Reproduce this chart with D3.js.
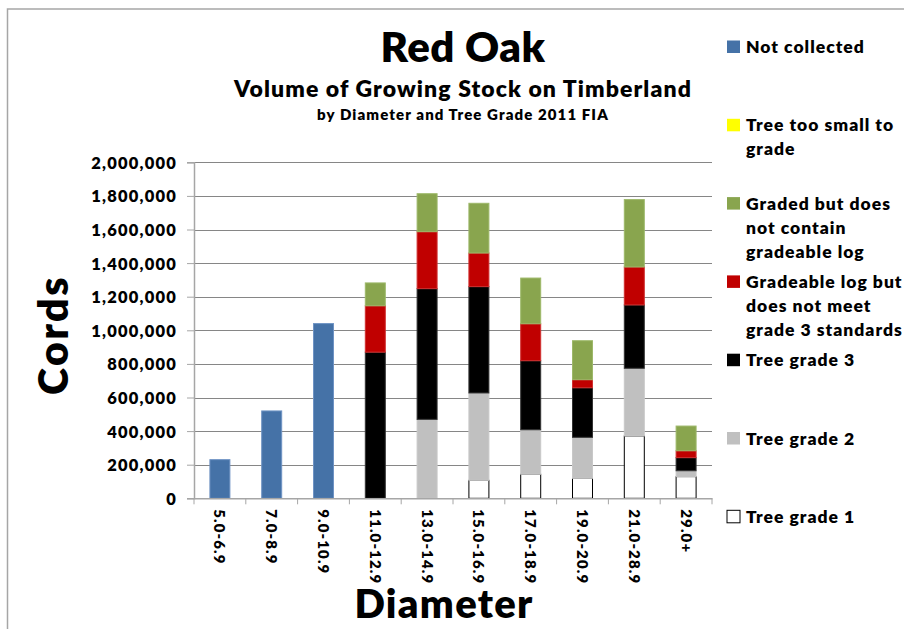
<!DOCTYPE html>
<html>
<head>
<meta charset="utf-8">
<script src="https://cdn.jsdelivr.net/npm/d3@7/dist/d3.min.js"></script>
<style>
  html, body { margin: 0; padding: 0; background: #fff; }
  svg { display: block; }
  text { font-family: Lato, "Open Sans", sans-serif; font-weight: 800; fill: #000; }
</style>
</head>
<body>
<svg id="chart" width="904" height="629"></svg>
<script>
// ---------- DATA ----------
const categories = ["5.0-6.9","7.0-8.9","9.0-10.9","11.0-12.9","13.0-14.9","15.0-16.9","17.0-18.9","19.0-20.9","21.0-28.9","29.0+"];
const treeGrade1     = [0, 0, 0, 0, 0, 107000, 143000, 119000, 371000, 129000];
const treeGrade2     = [0, 0, 0, 0, 470000, 520000, 265000, 244000, 403000, 35000];
const treeGrade3     = [0, 0, 0, 870000, 778000, 633000, 411000, 295000, 377000, 78000];
const gradeableLog   = [0, 0, 0, 276000, 339000, 200000, 220000, 48000, 226000, 41000];
const gradedNoLog    = [0, 0, 0, 136000, 226000, 296000, 272000, 232000, 401000, 147000];
const tooSmall       = [0, 0, 0, 0, 0, 0, 0, 0, 0, 0];
const notCollected   = [230000, 520000, 1040000, 0, 0, 0, 0, 0, 0, 0];
const yTicks = [0, 200000, 400000, 600000, 800000, 1000000, 1200000, 1400000, 1600000, 1800000, 2000000];

// series in stacking order (bottom -> top)
const series = [
  { key: "g1",  name: ["Tree grade 1"], values: treeGrade1, color: "#FFFFFF", stroke: "#000000" },
  { key: "g2",  name: ["Tree grade 2"], values: treeGrade2, color: "#C0C0C0", stroke: "#C8C8C8" },
  { key: "g3",  name: ["Tree grade 3"], values: treeGrade3, color: "#000000", stroke: "#333333" },
  { key: "gl",  name: ["Gradeable log but", "does not meet", "grade 3 standards"], values: gradeableLog, color: "#C00000", stroke: "#D03030" },
  { key: "gn",  name: ["Graded but does", "not contain", "gradeable log"], values: gradedNoLog, color: "#89A54E", stroke: "#9DB869" },
  { key: "ts",  name: ["Tree too small  to", "grade"], values: tooSmall, color: "#FFFF00", stroke: "#FFFF00" },
  { key: "nc",  name: ["Not collected"], values: notCollected, color: "#4572A7", stroke: "#6F93C4" }
];

// ---------- LAYOUT ----------
const svg = d3.select("#chart");
const plot = { left: 194, right: 712, top: 162.3, bottom: 498.3 };

// outer frame
svg.append("rect").attr("x", 7.5).attr("y", 9).attr("width", 1000).attr("height", 1000)
  .attr("fill", "none").attr("stroke", "#A6A6A6").attr("stroke-width", 1.5);

const x = d3.scaleBand().domain(categories).range([plot.left, plot.right])
  .paddingInner(0.614).paddingOuter(0.307);
const y = d3.scaleLinear().domain([0, 2000000]).range([plot.bottom, plot.top]);

// gridlines
svg.append("g").selectAll("line").data(yTicks.filter(d => d > 0)).join("line")
  .attr("x1", plot.left).attr("x2", plot.right)
  .attr("y1", d => Math.round(y(d)) + 0.5).attr("y2", d => Math.round(y(d)) + 0.5)
  .attr("stroke", "#868686").attr("stroke-width", 1);

// stacked bars
const rows = categories.map((c, i) => {
  const r = { cat: c };
  series.forEach(s => r[s.key] = s.values[i]);
  return r;
});
const stack = d3.stack().keys(series.map(s => s.key))(rows);
const gBars = svg.append("g");
stack.forEach((layer, li) => {
  const s = series[li];
  gBars.append("g").selectAll("rect").data(layer.filter(d => d[1] - d[0] > 0)).join("rect")
    .attr("x", d => x(d.data.cat))
    .attr("width", x.bandwidth())
    .attr("y", d => y(d[1]))
    .attr("height", d => y(d[0]) - y(d[1]))
    .attr("fill", s.color)
    .attr("stroke", s.stroke)
    .attr("stroke-width", 1);
});

// y axis
const yAxis = d3.axisLeft(y).tickValues(yTicks).tickSize(7).tickPadding(10)
  .tickFormat(d3.format(","));
const gy = svg.append("g").attr("transform", `translate(${plot.left},0)`).call(yAxis);
gy.select(".domain").attr("stroke", "#A6A6A6").attr("stroke-width", 1.5);
gy.selectAll(".tick line").attr("stroke", "#A6A6A6");
gy.selectAll(".tick text").style("font-family", "Lato, sans-serif").style("font-weight", 800)
  .style("font-size", "16.5px").style("letter-spacing", "1.2px").attr("fill", "#000").attr("dy", "0.36em");

// x axis
const xAxis = d3.axisBottom(x).tickSize(0).tickPadding(0);
const gx = svg.append("g").attr("transform", `translate(0,${plot.bottom})`).call(xAxis);
gx.select(".domain").attr("stroke", "#A6A6A6").attr("stroke-width", 1.5);
gx.selectAll(".tick text")
  .style("font-family", "Lato, sans-serif").style("font-weight", 800).style("font-size", "15px")
  .style("letter-spacing", "1.1px")
  .attr("fill", "#000")
  .attr("text-anchor", "start")
  .attr("transform", "translate(0,11) rotate(90)")
  .attr("x", 0).attr("y", 0).attr("dy", "0.36em");
// category boundary ticks
const step = x.step();
const boundaries = categories.map(c => x(c) - (step - x.bandwidth()) / 2).concat([plot.right]);
svg.append("g").selectAll("line").data(boundaries).join("line")
  .attr("x1", d => d).attr("x2", d => d)
  .attr("y1", plot.bottom).attr("y2", plot.bottom + 6)
  .attr("stroke", "#A6A6A6").attr("stroke-width", 1);

// titles
svg.append("text").attr("x", 463).attr("y", 62).attr("text-anchor", "middle")
  .style("font-size", "42px").style("letter-spacing", "0.5px").text("Red Oak");
svg.append("text").attr("x", 463).attr("y", 97).attr("text-anchor", "middle")
  .style("font-size", "23px").style("letter-spacing", "1.1px").text("Volume of Growing Stock on Timberland");
svg.append("text").attr("x", 463).attr("y", 119.5).attr("text-anchor", "middle")
  .style("font-size", "15px").style("letter-spacing", "1.1px").text("by Diameter and Tree Grade 2011 FIA");

// axis titles
svg.append("text").attr("transform", "translate(68,335) rotate(-90)").attr("text-anchor", "middle")
  .style("font-size", "41px").style("letter-spacing", "2.5px").text("Cords");
svg.append("text").attr("x", 444).attr("y", 618).attr("text-anchor", "middle")
  .style("font-size", "40px").style("letter-spacing", "1.3px").text("Diameter");

// legend (reverse of stacking)
const legendItems = series.slice().reverse();
const lg = svg.append("g");
legendItems.forEach((s, i) => {
  const base = 53 + i * 78.3;
  lg.append("rect").attr("x", 727).attr("y", base - 12.5).attr("width", 13).attr("height", 12.5)
    .attr("fill", s.color).attr("stroke", s.key === "g1" ? "#000" : "none").attr("stroke-width", 1);
  const t = lg.append("text").attr("x", 746).attr("y", base).style("font-size", "17.5px")
    .style("letter-spacing", "1px");
  s.name.forEach((line, li) => {
    t.append("tspan").attr("x", 746).attr("dy", li === 0 ? 0 : 24).text(line);
  });
});
</script>
</body>
</html>
